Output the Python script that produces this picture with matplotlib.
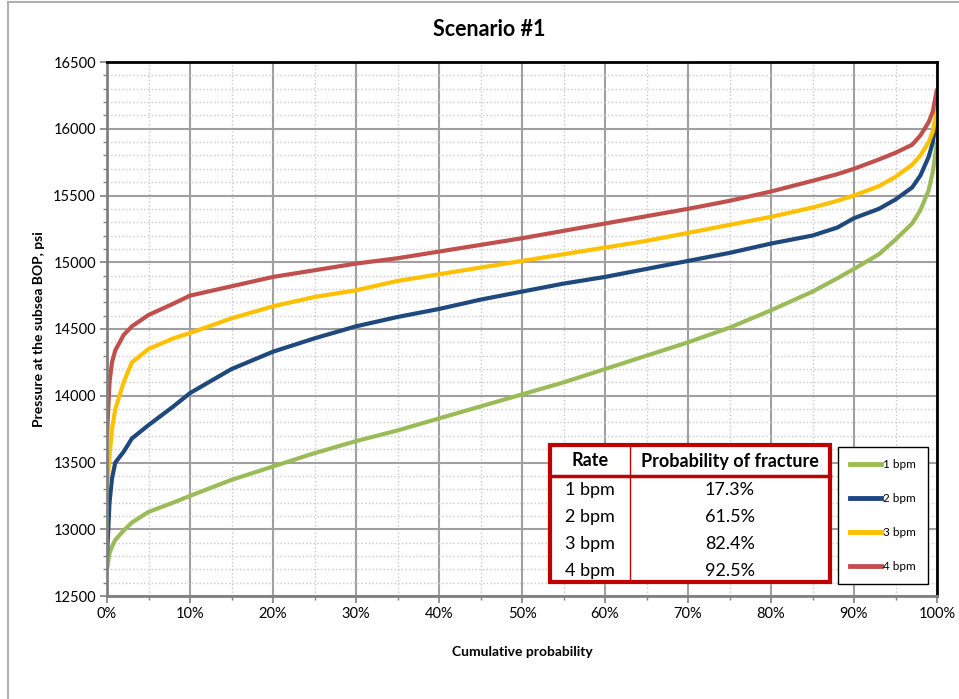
import numpy as np
import matplotlib
matplotlib.use("Agg")
from matplotlib import pyplot as plt
from matplotlib.ticker import MultipleLocator, PercentFormatter
from matplotlib.lines import Line2D

plt.rcParams['font.family'] = ['Lato', 'DejaVu Sans']

# cumulative probability (%) at which the pressures were read
prob = [0, 0.3, 0.6, 1, 2, 3, 5, 8, 10, 15, 20, 25, 30, 35, 40, 45, 50, 55, 60,
        65, 70, 75, 80, 85, 88, 90, 93, 95, 97, 98, 99, 99.5, 100]

p_1bpm = [12700, 12820, 12870, 12920, 12990, 13050, 13130, 13200, 13250, 13370, 13470,
          13570, 13660, 13740, 13830, 13920, 14010, 14100, 14200, 14300, 14400, 14510,
          14640, 14780, 14880, 14950, 15060, 15170, 15290, 15390, 15540, 15680, 15900]
p_2bpm = [12800, 13200, 13380, 13500, 13580, 13680, 13780, 13920, 14020, 14200, 14330,
          14430, 14520, 14590, 14650, 14720, 14780, 14840, 14890, 14950, 15010, 15070,
          15140, 15200, 15260, 15330, 15400, 15470, 15560, 15650, 15790, 15900, 16100]
p_3bpm = [13300, 13550, 13750, 13900, 14100, 14250, 14350, 14430, 14470, 14580, 14670,
          14740, 14790, 14860, 14910, 14960, 15010, 15060, 15110, 15160, 15220, 15280,
          15340, 15410, 15460, 15500, 15570, 15640, 15730, 15800, 15900, 15980, 16150]
p_4bpm = [13700, 14100, 14250, 14340, 14455, 14520, 14605, 14690, 14750, 14820, 14890,
          14940, 14990, 15030, 15080, 15130, 15180, 15235, 15290, 15345, 15400, 15460,
          15530, 15610, 15660, 15700, 15770, 15820, 15880, 15950, 16050, 16130, 16300]

rates = ['1 bpm', '2 bpm', '3 bpm', '4 bpm']
frac_prob = ['17.3%', '61.5%', '82.4%', '92.5%']
colors = ['#9BBB59', '#1F497D', '#FFC000', '#C0504D']

fig = plt.figure(figsize=(9.59, 6.99), dpi=100)
ax = fig.add_axes([107/959, 103/699, 830/959, 534/699])


def px(x):
    return (x - 107) / 830


def py(y):
    return (596 - y) / 534


for vals, c, lab in zip([p_1bpm, p_2bpm, p_3bpm, p_4bpm], colors, rates):
    ax.plot(np.array(prob) / 100, vals, color=c, lw=3, label=lab, solid_capstyle='butt')

ax.set_xlim(0, 1)
ax.set_ylim(12500, 16500)
ax.xaxis.set_major_locator(MultipleLocator(0.1))
ax.xaxis.set_minor_locator(MultipleLocator(0.05))
ax.yaxis.set_major_locator(MultipleLocator(500))
ax.yaxis.set_minor_locator(MultipleLocator(100))
ax.xaxis.set_major_formatter(PercentFormatter(1.0, decimals=0))
ax.grid(which='major', color='#a0a0a0', lw=1.5, ls='-')
ax.grid(which='minor', color='#c8c8c8', lw=1, ls=':')
ax.set_axisbelow(True)
ax.tick_params(which='major', length=5, width=1.2, color='#808080', labelsize=10.5, pad=3)
ax.tick_params(which='minor', length=3, width=1, color='#808080')
for s in ['left', 'bottom']:
    ax.spines[s].set_color('#808080')
    ax.spines[s].set_linewidth(2)
for s in ['top', 'right']:
    ax.spines[s].set_color('black')
    ax.spines[s].set_linewidth(2)

fig.text(489/959, 1 - 30/699, 'Scenario #1', fontsize=15.5, fontweight='bold',
         ha='center', va='center')
ax.set_xlabel('Cumulative probability', fontsize=10, fontweight='bold', labelpad=18)
ax.set_ylabel('Pressure at the subsea BOP, psi', fontsize=10, fontweight='bold', labelpad=6)

# probability of fracture table, drawn by hand
red = '#C00000'
ax.add_patch(plt.Rectangle((px(550), py(582)), px(830) - px(550), py(445) - py(582),
                           transform=ax.transAxes, fc='white', ec=red, lw=3, zorder=10))
ax.plot([px(550), px(830)], [py(476), py(476)], transform=ax.transAxes,
        color=red, lw=2.5, zorder=11)
ax.plot([px(630), px(630)], [py(582), py(445)], transform=ax.transAxes,
        color=red, lw=1, zorder=11)
ax.text(px(590), py(461), 'Rate', transform=ax.transAxes, ha='center', va='center',
        fontsize=13, fontweight='bold', zorder=12)
ax.text(px(730), py(461), 'Probability of fracture', transform=ax.transAxes,
        ha='center', va='center', fontsize=13, fontweight='bold', zorder=12)
for i, (r, p) in enumerate(zip(rates, frac_prob)):
    yy = py(490 + 27 * i)
    ax.text(px(590), yy, r, transform=ax.transAxes, ha='center', va='center',
            fontsize=13, zorder=12)
    ax.text(px(730), yy, p, transform=ax.transAxes, ha='center', va='center',
            fontsize=13, zorder=12)

handles = [Line2D([], [], color=c, lw=3.5) for c in colors]
leg = ax.legend(handles, rates, loc='upper left', bbox_to_anchor=(px(838), py(447)),
                frameon=True, fancybox=False, edgecolor='black', fontsize=8.5,
                handlelength=2.6, handletextpad=0.2, labelspacing=1.95,
                borderpad=1.0, borderaxespad=0, framealpha=1)
leg.get_frame().set_linewidth(1)

# chart area border
fig.add_artist(Line2D([8/959, 8/959], [0, 697/699], color='#b0b0b0', lw=1.5))
fig.add_artist(Line2D([8/959, 1], [697/699, 697/699], color='#b0b0b0', lw=1.5))

plt.savefig('out.png', dpi=100)
